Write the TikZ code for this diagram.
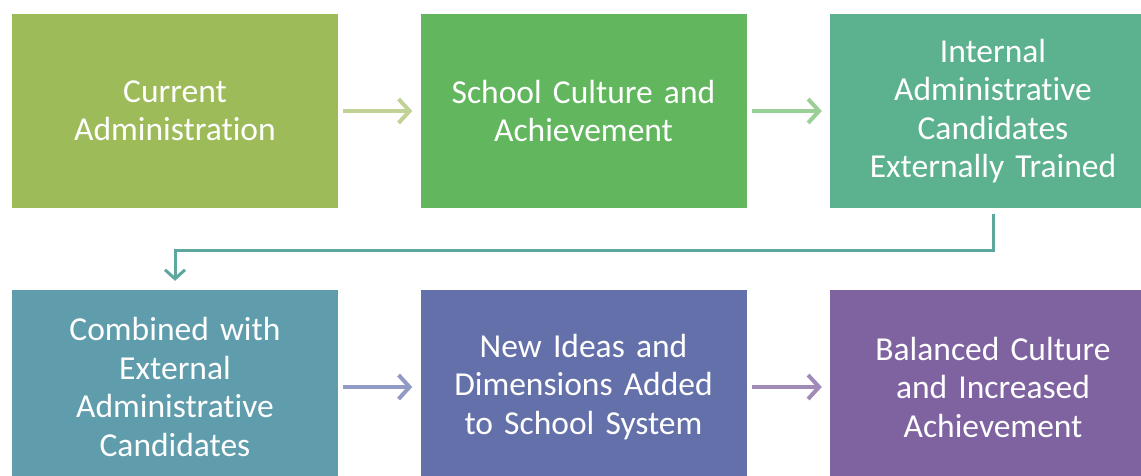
\documentclass[tikz,border=0pt]{standalone}
\usepackage{fontspec}
\setmainfont{Carlito}[Ligatures=NoCommon]
\usetikzlibrary{arrows.meta}

\definecolor{stepA}{HTML}{9EBB5A}
\definecolor{stepB}{HTML}{62B65E}
\definecolor{stepC}{HTML}{5CB18F}
\definecolor{stepD}{HTML}{5F9DAC}
\definecolor{stepE}{HTML}{6470A9}
\definecolor{stepF}{HTML}{7F63A1}

\tikzset{
  stagebox/.style={fill=#1, draw=none, minimum width=326pt, minimum height=194pt,
    text width=316pt, inner sep=0pt, align=center, text=white,
    font=\fontsize{33.5}{38.5}\selectfont},
  flowarrow/.style={draw=#1, line width=4.5pt,
    -{Straight Barb[length=11pt, width=24pt, line width=4pt]},
    shorten <=5pt, shorten >=8pt},
}

\begin{document}
\begin{tikzpicture}[x=1pt, y=-1pt]

\useasboundingbox (0,0) rectangle (1141,476);
\clip (0,0) rectangle (1141,476);

\node[stagebox=stepA] (S1) at (175,111) {Current\\Administration};
\node[stagebox=stepB] (S2) at (583.5,111) {School Culture and\\Achievement};
\node[stagebox=stepC] (S3) at (993,111) {Internal\\Administrative\\Candidates\\Externally Trained};

\node[stagebox=stepD] (S4) at (175,387) {Combined with\\External\\Administrative\\Candidates};
\node[stagebox=stepE] (S5) at (583.5,387) {New Ideas and\\Dimensions Added\\to School System};
\node[stagebox=stepF] (S6) at (993,387) {Balanced Culture\\and Increased\\Achievement};

\draw[flowarrow=stepA!65!white] (S1) -- (S2);
\draw[flowarrow=stepB!65!white] (S2) -- (S3);
\draw[flowarrow=stepE!70!white] (S4) -- (S5);
\draw[flowarrow=stepF!75!white] (S5) -- (S6);

% turn from the first row down to the second
\draw[draw=stepC!50!stepD, line width=3pt,
  -{Straight Barb[length=9pt, width=20pt, line width=3pt]},
  shorten <=6pt, shorten >=9pt]
  (S3.south) -- ++(0,42) -| (S4.north);

\end{tikzpicture}
\end{document}
